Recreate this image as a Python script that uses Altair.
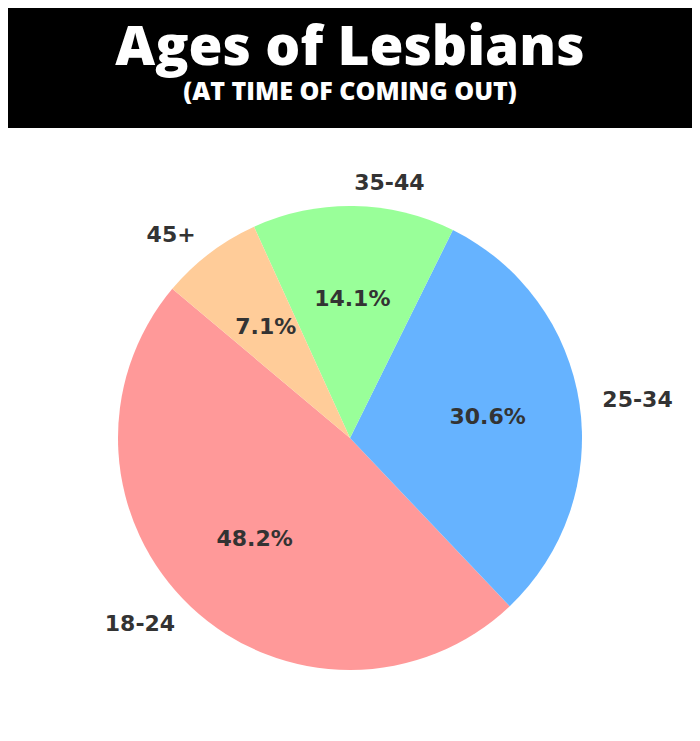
import altair as alt
import pandas as pd

# ---- data ----
ages = ["18-24", "25-34", "35-44", "45+"]
percents = [48.2, 30.6, 14.1, 7.1]
colors = ["#ff9999", "#66b3ff", "#99ff99", "#ffcc99"]
order_idx = [0, 1, 2, 3]

df = pd.DataFrame({"age": ages, "pct": percents, "idx": order_idx})

START = -0.872665  # -50 degrees (matplotlib startangle=140)
TWO_PI = 6.283185307
R = 232
CX, CY = 342, 310

base = (
    alt.Chart(df)
    .transform_window(
        cum="sum(pct)",
        sort=[alt.SortField("idx", order="descending")],
        frame=[None, 0],
    )
    .transform_joinaggregate(total="sum(pct)")
    .transform_calculate(
        start="(datum.cum - datum.pct) / datum.total",
        end="datum.cum / datum.total",
        mid="(datum.cum - datum.pct / 2) / datum.total",
        pctlabel="format(datum.pct, '.1f') + '%'",
    )
    .transform_calculate(
        side=f"sin({START} + datum.mid * 2 * PI) > 0 ? 'right' : 'left'"
    )
)

theta_scale = alt.Scale(domain=[0, 1], range=[START, START + TWO_PI])

arcs = base.mark_arc(radius=R, stroke=None).encode(
    theta=alt.Theta("start:Q", scale=theta_scale),
    theta2="end:Q",
    color=alt.Color(
        "age:N",
        scale=alt.Scale(domain=ages, range=colors),
        legend=None,
    ),
    x=alt.value(CX),
    y=alt.value(CY),
)

text_style = dict(
    font="DejaVu Sans",
    fontWeight="bold",
    fontSize=22,
    color="#333333",
    baseline="middle",
)

pct_text = base.mark_text(radius=R * 0.6, align="center", **text_style).encode(
    theta=alt.Theta("mid:Q", scale=theta_scale),
    text="pctlabel:N",
    x=alt.value(CX),
    y=alt.value(CY),
)

lab_right = base.transform_filter("datum.side == 'right'").mark_text(
    radius=R * 1.1, align="left", **text_style
).encode(
    theta=alt.Theta("mid:Q", scale=theta_scale),
    text="age:N",
    x=alt.value(CX),
    y=alt.value(CY),
)

lab_left = base.transform_filter("datum.side == 'left'").mark_text(
    radius=R * 1.1, align="right", **text_style
).encode(
    theta=alt.Theta("mid:Q", scale=theta_scale),
    text="age:N",
    x=alt.value(CX),
    y=alt.value(CY),
)

chart = (
    alt.layer(arcs, pct_text, lab_right, lab_left)
    .properties(
        width=684,
        height=600,
        autosize=alt.AutoSizeParams(type="none"),
        padding={"top": 120, "left": 0, "right": 0, "bottom": 0},
        background="black",
        title=alt.Title(
            text="Ages of Lesbians",
            subtitle="(AT TIME OF COMING OUT)",
            anchor="middle",
            color="white",
            subtitleColor="white",
            font="Open Sans",
            subtitleFont="Open Sans",
            fontSize=55,
            subtitleFontSize=25,
            fontWeight=800,
            subtitleFontWeight=800,
            subtitlePadding=3,
            offset=22,
        ),
    )
    .configure_view(fill="white", stroke=None)
)

chart.save("out.html", embed_options={"renderer": "svg", "actions": False})
